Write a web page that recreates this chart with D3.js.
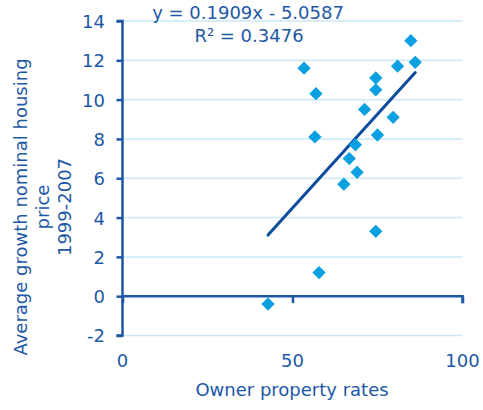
<!DOCTYPE html>
<html>
<head>
<meta charset="utf-8">
<script src="https://cdn.jsdelivr.net/npm/d3@7"></script>
<style>
  html, body { margin: 0; padding: 0; background: #ffffff; }
  svg { display: block; font-family: "DejaVu Sans", Verdana, sans-serif; }
</style>
</head>
<body>
<svg id="chart" width="483" height="410"></svg>
<script>
// Owner occupation rate (%) against average nominal house price growth 1999-2007 (%)
const ownerRates = [53.4, 56.9, 56.6, 57.8, 42.8, 65.1, 66.7, 69.0, 68.5, 71.2, 74.5, 74.5, 75.0, 79.6, 80.9, 84.8, 86.1, 74.5];
const priceGrowth = [11.6, 10.3, 8.1, 1.2, -0.4, 5.7, 7.0, 6.3, 7.7, 9.5, 11.1, 10.5, 8.2, 9.1, 11.7, 13.0, 11.9, 3.3];

// Linear trend fitted to the points
const trendSlope = 0.1909;
const trendIntercept = -5.0587;
const equationLabel = "y = 0.1909x - 5.0587";
const rSquaredLabel = "R² = 0.3476";

const xTicks = [0, 50, 100];
const yTicks = [-2, 0, 2, 4, 6, 8, 10, 12, 14];

const xTitle = "Owner property rates";
const yTitleLines = ["Average growth nominal housing", "price", "1999-2007"];

const textColor = "#1d58a7";
const axisColor = "#1d56a5";
const gridColor = "#c9e9f7";
const markerColor = "#0aa0e2";
const trendColor = "#0c4b9d";

const svg = d3.select("#chart");

const x = d3.scaleLinear().domain([0, 100]).range([122.5, 462.5]);
const y = d3.scaleLinear().domain([-2, 14]).range([335.5, 21]);

// Horizontal gridlines
svg.append("g")
  .selectAll("line")
  .data(yTicks.filter(t => t !== 0))
  .join("line")
  .attr("x1", x(0)).attr("x2", x(100))
  .attr("y1", d => y(d)).attr("y2", d => y(d))
  .attr("stroke", gridColor)
  .attr("stroke-width", 1.5);

// Vertical axis with ticks on the left
const yAxis = svg.append("g")
  .attr("transform", `translate(${x(0)},0)`)
  .call(d3.axisLeft(y).tickValues(yTicks).tickSize(6).tickPadding(11.5).tickFormat(d => String(d)));
yAxis.select(".domain").attr("stroke", axisColor).attr("stroke-width", 2.5)
  .attr("d", `M-6,${y(-2)}H0V${y(14)}H-6`);
yAxis.selectAll(".tick line").attr("stroke", axisColor).attr("stroke-width", 2.5);
yAxis.selectAll(".tick text")
  .attr("fill", textColor)
  .attr("font-size", 18)
  .attr("font-family", "DejaVu Sans, Verdana, sans-serif")
  .attr("dy", "0.36em");

// Horizontal axis drawn along the zero line
const xAxis = svg.append("g")
  .attr("transform", `translate(0,${y(0)})`)
  .call(d3.axisBottom(x).tickValues(xTicks).tickSize(7).tickFormat(() => ""));
xAxis.select(".domain").attr("stroke", axisColor).attr("stroke-width", 2.5)
  .attr("d", `M${x(0)},0H${x(100)}V7`);
xAxis.selectAll(".tick line").attr("stroke", axisColor).attr("stroke-width", 2.5);

// Horizontal tick labels sit below the plot area
svg.append("g")
  .selectAll("text")
  .data(xTicks)
  .join("text")
  .attr("x", d => x(d))
  .attr("y", 367)
  .attr("text-anchor", "middle")
  .attr("fill", textColor)
  .attr("font-size", 18)
  .text(d => d);

// Trend line across the observed range
const xExtent = d3.extent(ownerRates);
svg.append("line")
  .attr("x1", x(xExtent[0])).attr("y1", y(trendSlope * xExtent[0] + trendIntercept))
  .attr("x2", x(xExtent[1])).attr("y2", y(trendSlope * xExtent[1] + trendIntercept))
  .attr("stroke", trendColor)
  .attr("stroke-width", 3)
  .attr("stroke-linecap", "round");

// Diamond markers
const diamond = d3.symbol().type(d3.symbolSquare).size(88);
svg.append("g")
  .selectAll("path")
  .data(ownerRates.map((v, i) => [v, priceGrowth[i]]))
  .join("path")
  .attr("d", diamond)
  .attr("transform", d => `translate(${x(d[0])},${y(d[1])}) rotate(45)`)
  .attr("fill", markerColor);

// Regression equation
svg.append("text")
  .attr("x", 248).attr("y", 19)
  .attr("text-anchor", "middle")
  .attr("fill", textColor)
  .attr("font-size", 18)
  .text(equationLabel);
svg.append("text")
  .attr("x", 249).attr("y", 42)
  .attr("text-anchor", "middle")
  .attr("fill", textColor)
  .attr("font-size", 18)
  .text(rSquaredLabel);

// Axis titles
svg.append("text")
  .attr("x", 292).attr("y", 396)
  .attr("text-anchor", "middle")
  .attr("fill", textColor)
  .attr("font-size", 18)
  .text(xTitle);

const yTitleX = [27, 49, 71];
svg.append("g")
  .selectAll("text")
  .data(yTitleLines)
  .join("text")
  .attr("transform", (d, i) => `translate(${yTitleX[i]},207) rotate(-90)`)
  .attr("text-anchor", "middle")
  .attr("fill", textColor)
  .attr("font-size", 18)
  .text(d => d);
</script>
</body>
</html>
